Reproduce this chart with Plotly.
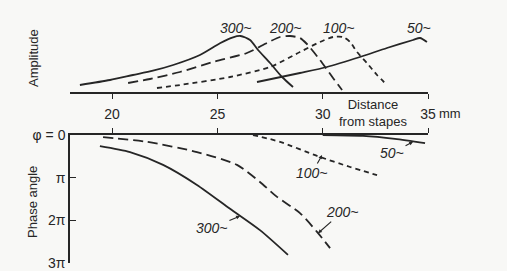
import plotly.graph_objects as go

# ---- data (distance from stapes in mm) ----
amp_300_x = [18.47, 19.9, 20.99, 21.94, 22.9, 24.17, 25.12, 25.74, 26.1, 26.55, 26.93, 27.50, 28.07, 28.59]
amp_300_y = [7, 12, 17, 21.3, 27, 37, 48.7, 54.7, 56, 52, 42, 29, 15, 5]

amp_200_x = [20.76, 21.8, 23.22, 24.79, 26.40, 27.35, 27.97, 28.45, 28.92, 29.25, 29.87, 30.49, 30.92]
amp_200_y = [9, 13, 20, 30, 39, 49, 55, 56, 54, 48, 32, 14, 2]

amp_100_x = [22.13, 23.22, 25.6, 27.5, 28.92, 29.87, 30.49, 30.96, 31.3, 31.63, 32.1, 32.58, 33.05]
amp_100_y = [4, 7, 15, 25, 40, 50, 55, 55, 50, 40, 29, 17, 7]

amp_50_x = [26.88, 28.92, 30.2, 31.77, 33.05, 34.29, 34.62, 34.95]
amp_50_y = [10, 19, 25, 35, 44, 52, 54, 50]

# phase angle in units of pi
ph_300_x = [19.42, 20.85, 22.42, 24.03, 25.60, 27.02, 28.35]
ph_300_y = [0.26, 0.40, 0.70, 1.17, 1.73, 2.23, 2.81]

ph_200_x = [19.57, 21.66, 24.03, 25.93, 27.02, 27.83, 28.92, 29.73, 30.35]
ph_200_y = [0.05, 0.16, 0.40, 0.70, 1.10, 1.45, 1.83, 2.27, 2.65]

ph_100_x = [26.69, 27.97, 29.73, 31.30, 32.58]
ph_100_y = [0.0, 0.16, 0.49, 0.75, 0.94]

ph_50_x = [30.0, 31.91, 33.43, 34.86]
ph_50_y = [0.0, 0.02, 0.09, 0.19]

x_ticks = [20, 25, 30, 35]
x_ticktext = ["20", "25", "30", "35"]
phase_ticks = [0, 1, 2, 3]
phase_ticktext = ["φ = 0", "π", "2π", "3π"]

INK = "#262626"
BG = "#f8f8f6"
W, H = 507, 271

fig = go.Figure()

def line(x, y, dash, xa, ya):
    fig.add_trace(go.Scatter(
        x=x, y=y, mode="lines", xaxis=xa, yaxis=ya,
        line=dict(color=INK, width=1.8, dash=dash, shape="spline", smoothing=0.7),
        hoverinfo="skip", showlegend=False))

line(amp_300_x, amp_300_y, "solid", "x", "y")
line(amp_200_x, amp_200_y, "10px,5px", "x", "y")
line(amp_100_x, amp_100_y, "5px,4px", "x", "y")
line(amp_50_x, amp_50_y, "solid", "x", "y")

line(ph_300_x, ph_300_y, "solid", "x2", "y2")
line(ph_200_x, ph_200_y, "10px,5px", "x2", "y2")
line(ph_100_x, ph_100_y, "5px,4px", "x2", "y2")
line(ph_50_x, ph_50_y, "solid", "x2", "y2")

xdom = [70 / W, 428 / W]
ann = []

# amplitude curve labels
for txt, xm in [("300~", 25.88), ("200~", 28.21), ("100~", 30.77), ("50~", 34.57)]:
    ann.append(dict(x=xm, y=64, xref="x", yref="y", text="<i>" + txt + "</i>",
                    showarrow=False, font=dict(size=14, color=INK)))

# phase curve labels with arrows
for txt, xm, pm, ax, ay in [("300~", 26.07, 1.90, -28, 12),
                            ("200~", 29.78, 2.30, 24, -21),
                            ("100~", 29.97, 0.47, -10, 18),
                            ("50~", 34.29, 0.16, -21, 11)]:
    ann.append(dict(x=xm, y=pm, xref="x2", yref="y2", text="<i>" + txt + "</i>",
                    showarrow=True, ax=ax, ay=ay, arrowhead=2, arrowsize=0.7,
                    arrowwidth=1.1, arrowcolor=INK, standoff=0,
                    font=dict(size=14, color=INK)))

ann.append(dict(x=32.39, y=1 - 113 / H, xref="x", yref="paper",
                text="Distance<br>from stapes", showarrow=False,
                xanchor="center", yanchor="middle",
                font=dict(size=13, color=INK), align="center"))
ann.append(dict(x=35, y=1 - 113 / H, xref="x", yref="paper", text="mm",
                showarrow=False, xanchor="left", yanchor="middle", xshift=9,
                font=dict(size=13, color=INK)))
ann.append(dict(x=33 / W, y=1 - 58 / H, xref="paper", yref="paper",
                text="Amplitude", textangle=-90, showarrow=False,
                xanchor="center", yanchor="middle",
                font=dict(size=13, color=INK)))
ann.append(dict(x=32 / W, y=1 - 202 / H, xref="paper", yref="paper",
                text="Phase angle", textangle=-90, showarrow=False,
                xanchor="center", yanchor="middle",
                font=dict(size=13, color=INK)))

fig.update_layout(
    width=W, height=H,
    margin=dict(l=0, r=0, t=0, b=0, autoexpand=False),
    paper_bgcolor=BG, plot_bgcolor=BG,
    font=dict(family="Liberation Sans, Arial, sans-serif", size=13, color=INK),
    xaxis=dict(domain=xdom, range=[18, 35], anchor="y", showline=True,
               linecolor=INK, linewidth=1.5, ticks="outside", ticklen=5,
               tickcolor=INK, tickwidth=1.3, tickvals=x_ticks,
               ticktext=x_ticktext, ticklabelstandoff=3, showgrid=False,
               zeroline=False, tickfont=dict(size=14), automargin=False),
    yaxis=dict(domain=[1 - 92 / H, 1 - 8 / H], range=[0, 84], anchor="x",
               visible=False, automargin=False),
    xaxis2=dict(domain=xdom, range=[18, 35], anchor="y2", side="top",
                showline=True, linecolor=INK, linewidth=1.8, ticks="outside",
                ticklen=5, tickcolor=INK, tickwidth=1.3, tickvals=x_ticks,
                showticklabels=False, showgrid=False, zeroline=False,
                automargin=False),
    yaxis2=dict(domain=[1 - 263 / H, 1 - 135 / H], range=[3, 0], anchor="x2",
                showline=True, linecolor=INK, linewidth=1.5, ticks="inside",
                ticklen=6, tickcolor=INK, tickwidth=1.3, tickvals=phase_ticks,
                ticktext=phase_ticktext, showgrid=False, zeroline=False,
                tickfont=dict(size=14), automargin=False),
    annotations=ann,
)

fig.write_html(
    "out.html",
    config={"displayModeBar": False},
    post_script="document.body.style.margin='0';document.body.style.padding='0';"
                "document.body.style.overflow='hidden';document.body.style.background='%s';" % BG,
)
